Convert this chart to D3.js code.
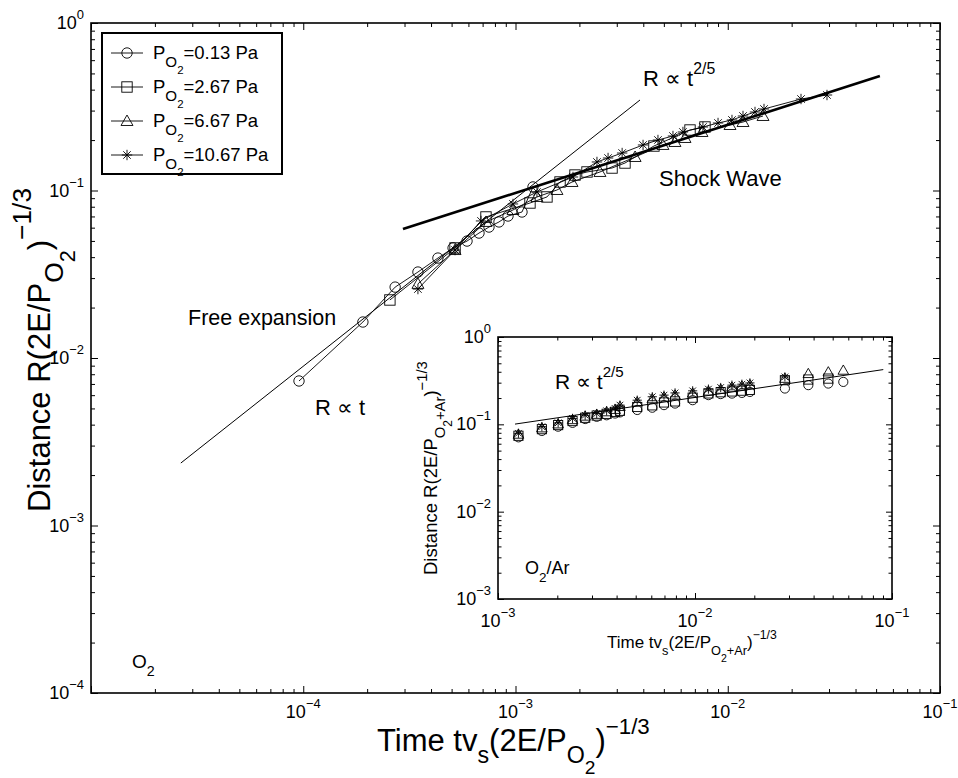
<!DOCTYPE html>
<html><head><meta charset="utf-8">
<script src="https://cdn.jsdelivr.net/npm/d3@7"></script>
<style>
body{margin:0;background:#fff}
text{font-family:"Liberation Sans",Arial,Helvetica,sans-serif;fill:#000}
</style>
</head><body>
<svg id="c" width="958" height="778"></svg>
<script>
// ---------------- DATA ----------------
const seriesLabels = ["0.13 Pa","2.67 Pa","6.67 Pa","10.67 Pa"];
const seriesMarkers = ["circle","square","triangle","star"];

// Main plot (O2)
const mainCircleX = [9.55e-5,1.91e-4,2.71e-4,3.47e-4,4.31e-4,5.08e-4,5.91e-4,6.73e-4,7.50e-4,8.36e-4,9.22e-4,1.073e-3,1.209e-3];
const mainCircleY = [7.29e-3,1.64e-2,2.65e-2,3.26e-2,3.95e-2,4.54e-2,4.99e-2,5.57e-2,6.05e-2,6.49e-2,7.04e-2,7.44e-2,0.105];
const mainSquareX = [2.56e-4,5.19e-4,7.26e-4,1.170e-3,1.407e-3,1.621e-3,1.907e-3,2.172e-3,2.85e-3,3.28e-3,4.49e-3,6.64e-3,7.81e-3];
const mainSquareY = [0.0222,0.0454,0.0695,0.0842,0.0915,0.1124,0.1237,0.129,0.1362,0.1459,0.1843,0.2297,0.2394];
const mainTriX = [3.47e-4,5.19e-4,7.26e-4,9.73e-4,1.262e-3,1.568e-3,1.846e-3,2.50e-3,3.66e-3,4.95e-3,5.64e-3,6.29e-3,7.56e-3,1.025e-2,1.18e-2,1.466e-2];
const mainTriY = [0.0277,0.0441,0.0649,0.0765,0.0915,0.1007,0.1124,0.129,0.1585,0.187,0.1948,0.2058,0.2235,0.246,0.2564,0.2785];
const mainStarX = [3.47e-4,5.19e-4,6.88e-4,9.73e-4,1.262e-3,1.866e-3,2.42e-3,2.73e-3,3.18e-3,3.99e-3,4.69e-3,5.52e-3,6.15e-3,7.64e-3,9.00e-3,1.047e-2,1.18e-2,1.344e-2,1.482e-2,2.214e-2,2.935e-2];
const mainStarY = [0.0258,0.0441,0.0658,0.0831,0.098,0.1204,0.148,0.1563,0.1674,0.187,0.2002,0.2115,0.2235,0.2394,0.2529,0.2636,0.2785,0.2942,0.3066,0.3517,0.3716];

// Reference lines (main)
const freeLineX = [2.65e-5,3.86e-3];
const freeLineY = [2.36e-3,0.347];
const shockLineX = [2.95e-4,5.21e-2];
const shockLineY = [0.0589,0.483];

// Inset (O2/Ar)
const insetX = [1.27e-3,1.67e-3,2.02e-3,2.39e-3,2.77e-3,3.17e-3,3.56e-3,3.93e-3,4.16e-3,5.09e-3,6.07e-3,6.96e-3,7.92e-3,9.73e-3,1.17e-2,1.35e-2,1.54e-2,1.73e-2,1.90e-2,2.86e-2,3.76e-2,4.75e-2,5.66e-2];
const insetCircleY = [0.071,0.084,0.094,0.104,0.115,0.122,0.127,0.133,0.137,0.146,0.155,0.166,0.173,0.189,0.216,0.222,0.225,0.229,0.235,0.257,0.281,0.293,0.306];
const insetSquareY = [0.074,0.088,0.098,0.109,0.119,0.126,0.132,0.139,0.143,0.158,0.165,0.178,0.183,0.202,0.226,0.233,0.238,0.243,0.248,0.320,0.326,0.334];
const insetTriY = [0.077,0.091,0.101,0.113,0.124,0.130,0.139,0.148,0.160,0.180,0.196,0.205,0.216,0.228,0.240,0.252,0.266,0.274,0.284,0.336,0.381,0.398,0.416];
const insetStarY = [0.079,0.094,0.104,0.117,0.127,0.133,0.143,0.152,0.166,0.189,0.207,0.216,0.229,0.242,0.253,0.264,0.281,0.288,0.298,0.349];
const insetLineX = [1.22e-3,9.03e-2];
const insetLineY = [0.1006,0.4235];

// Tick values
const mainXMajor = [1e-5,1e-4,1e-3,1e-2,1e-1];
const mainXLabels = [[1e-4,"−4"],[1e-3,"−3"],[1e-2,"−2"],[1e-1,"−1"]];
const mainYMajor = [1e-4,1e-3,1e-2,1e-1,1];
const mainYLabels = [[1,"0"],[1e-1,"−1"],[1e-2,"−2"],[1e-3,"−3"],[1e-4,"−4"]];
const insetXMajor = [1e-3,1e-2,1e-1];
const insetXLabels = [[1e-3,"−3"],[1e-2,"−2"],[1e-1,"−1"]];
const insetYMajor = [1e-3,1e-2,1e-1,1];
const insetYLabels = [[1,"0"],[1e-1,"−1"],[1e-2,"−2"],[1e-3,"−3"]];

// ---------------- DRAW ----------------
const svg = d3.select("#c");
const FONT = 18;

function minorsOf(majors){
  const out=[];
  for(let i=0;i<majors.length-1;i++) for(let k=2;k<=9;k++) out.push(majors[i]*k);
  return out;
}

function rich(g, x, y, parts, size, opts={}){
  const t = g.append("text").attr("x",x).attr("y",y).attr("font-size",size)
    .attr("text-anchor",opts.anchor||"start");
  if(opts.rotate) t.attr("transform",`rotate(${opts.rotate},${x},${y})`);
  const shifts=Object.assign({n:0,sub:0.42,sub2:0.8,sup:-0.55},opts.shifts||{});
  const sizes=Object.assign({n:1,sub:0.75,sub2:0.62,sup:0.72},opts.sizes||{});
  let cur=0;
  parts.forEach(p=>{
    const lvl=p[1]||"n";
    const sh=shifts[lvl]*size;
    t.append("tspan").attr("dy",sh-cur).attr("font-size",sizes[lvl]*size).text(p[0]);
    cur=sh;
  });
  return t;
}

function marker(g, type, cx, cy, s){
  let m;
  if(type==="circle"){
    m=g.append("circle").attr("cx",cx).attr("cy",cy).attr("r",s);
  } else if(type==="square"){
    m=g.append("rect").attr("x",cx-s).attr("y",cy-s).attr("width",2*s).attr("height",2*s);
  } else if(type==="triangle"){
    const h=s*1.15;
    m=g.append("path").attr("d",`M${cx},${cy-h}L${cx+h},${cy+h*0.75}L${cx-h},${cy+h*0.75}Z`);
  } else {
    const a=s, d=s*0.72;
    m=g.append("path").attr("d",`M${cx-a},${cy}L${cx+a},${cy}M${cx},${cy-a}L${cx},${cy+a}M${cx-d},${cy-d}L${cx+d},${cy+d}M${cx-d},${cy+d}L${cx+d},${cy-d}`);
  }
  m.attr("stroke","#000").attr("stroke-width",0.9).attr("fill","none");
}

function frameAxes(g, x, y, xMajor, yMajor, majorLen, minorLen){
  const [x0,x1]=x.range(), [y0,y1]=y.range();
  const xMin=minorsOf(xMajor), yMin=minorsOf(yMajor);
  const defs=[
    [d3.axisBottom, x, `translate(0,${y0})`],
    [d3.axisTop, x, `translate(0,${y1})`],
    [d3.axisLeft, y, `translate(${x0},0)`],
    [d3.axisRight, y, `translate(${x1},0)`]
  ];
  defs.forEach(([fn,sc,tr],i)=>{
    const isX = i<2;
    const maj = isX? xMajor : yMajor;
    const mn = isX? xMin : yMin;
    [[mn,minorLen],[maj,majorLen]].forEach(([vals,len])=>{
      const ax = g.append("g").attr("transform",tr)
        .call(fn(sc).tickValues(vals).tickSize(-len).tickFormat(""));
      ax.select(".domain").remove();
      ax.selectAll("line").attr("stroke","#000").attr("stroke-width",1);
    });
  });
  g.append("rect").attr("x",x0).attr("y",y1).attr("width",x1-x0).attr("height",y0-y1)
    .attr("fill","none").attr("stroke","#000").attr("stroke-width",1.6);
}

// ---- main plot
const x = d3.scaleLog().domain([1e-5,1e-1]).range([91,940]);
const y = d3.scaleLog().domain([1e-4,1]).range([693,23]);
const gm = svg.append("g");
frameAxes(gm, x, y, mainXMajor, mainYMajor, 7, 4);

mainXLabels.forEach(([v,e])=>rich(gm, x(v), 718, [["10"],[e,"sup"]], FONT, {anchor:"middle"}));
mainYLabels.forEach(([v,e])=>rich(gm, 84, y(v)+6, [["10"],[e,"sup"]], FONT, {anchor:"end"}));

// reference lines
const line = d3.line().x(d=>x(d[0])).y(d=>y(d[1]));
gm.append("path").attr("d",line(d3.zip(freeLineX,freeLineY))).attr("stroke","#000").attr("stroke-width",1).attr("fill","none");
gm.append("path").attr("d",line(d3.zip(shockLineX,shockLineY))).attr("stroke","#000").attr("stroke-width",2.6).attr("fill","none");

const mainSeries = [
  [mainCircleX,mainCircleY,"circle"],
  [mainSquareX,mainSquareY,"square"],
  [mainTriX,mainTriY,"triangle"],
  [mainStarX,mainStarY,"star"]
];
mainSeries.forEach(([xs,ys])=>{
  gm.append("path").attr("d",line(d3.zip(xs,ys))).attr("stroke","#000").attr("stroke-width",0.9).attr("fill","none");
});
mainSeries.forEach(([xs,ys,t])=>{
  xs.forEach((v,i)=>marker(gm,t,x(v),y(ys[i]),5.2));
});

// annotations
rich(gm, 643, 86, [["R ∝ t"],["2/5","sup"]], 22);
gm.append("text").attr("x",659).attr("y",186).attr("font-size",22).text("Shock Wave");
gm.append("text").attr("x",188).attr("y",325).attr("font-size",21.5).text("Free expansion");
gm.append("text").attr("x",315).attr("y",415).attr("font-size",22).text("R ∝ t");
rich(gm, 132, 668, [["O"],["2","sub"]], 19);

// axis titles
rich(gm, 377, 751, [["Time tv"],["s","sub"],["(2E/P"],["O","sub"],["2","sub2"],[")"],["−1/3","sup"]], 31,
  {shifts:{sub:0.4,sub2:0.74}});
rich(gm, 50, 512, [["Distance R(2E/P"],["O","sub"],["2","sub2"],[")"],["−1/3","sup"]], 31,
  {rotate:-90, sizes:{sub:0.85,sub2:0.7,sup:0.85}, shifts:{sup:-0.62}});

// legend
const lg = gm.append("g");
lg.append("rect").attr("x",102).attr("y",33).attr("width",180).attr("height",141)
  .attr("fill","#fff").attr("stroke","#000").attr("stroke-width",2);
seriesLabels.forEach((lab,i)=>{
  const ly = 53 + i*34;
  lg.append("line").attr("x1",111).attr("x2",143).attr("y1",ly).attr("y2",ly).attr("stroke","#000").attr("stroke-width",0.9);
  marker(lg, seriesMarkers[i], 127, ly, 5.2);
  rich(lg, 153, ly+6, [["P"],["O","sub"],["2","sub2"],["="+lab]], 18.5, {sizes:{sub:0.82,sub2:0.62}});
});

// ---- inset
const xi = d3.scaleLog().domain([1e-3,1e-1]).range([498,892]);
const yi = d3.scaleLog().domain([1e-3,1]).range([599,337]);
const gi = svg.append("g");
gi.append("rect").attr("x",498).attr("y",337).attr("width",394).attr("height",262).attr("fill","#fff");
frameAxes(gi, xi, yi, insetXMajor, insetYMajor, 6, 3.5);
insetXLabels.forEach(([v,e])=>rich(gi, xi(v), 627, [["10"],[e,"sup"]], FONT, {anchor:"middle"}));
insetYLabels.forEach(([v,e])=>rich(gi, 491, yi(v)+6, [["10"],[e,"sup"]], FONT, {anchor:"end"}));

const linei = d3.line().x(d=>xi(d[0])).y(d=>yi(d[1]));
gi.append("path").attr("d",linei(d3.zip(insetLineX,insetLineY))).attr("stroke","#000").attr("stroke-width",1).attr("fill","none");

[[insetCircleY,"circle"],[insetSquareY,"square"],[insetTriY,"triangle"],[insetStarY,"star"]].forEach(([ys,t])=>{
  ys.forEach((v,i)=>marker(gi,t,xi(insetX[i]),yi(v),4.6));
});

rich(gi, 555, 389, [["R ∝ t"],["2/5","sup"]], 21);
rich(gi, 525, 574, [["O"],["2","sub"],["/Ar"]], 18);

rich(gi, 607, 648, [["Time tv"],["s","sub"],["(2E/P"],["O","sub"],["2","sub2"],["+Ar","sub"],[")"],["−1/3","sup"]], 17);
rich(gi, 437, 575, [["Distance R(2E/P"],["O","sub"],["2","sub2"],["+Ar","sub"],[")"],["−1/3","sup"]], 18.5,
  {rotate:-90, sizes:{sub:0.8,sub2:0.65,sup:0.8}});
</script>
</body></html>
